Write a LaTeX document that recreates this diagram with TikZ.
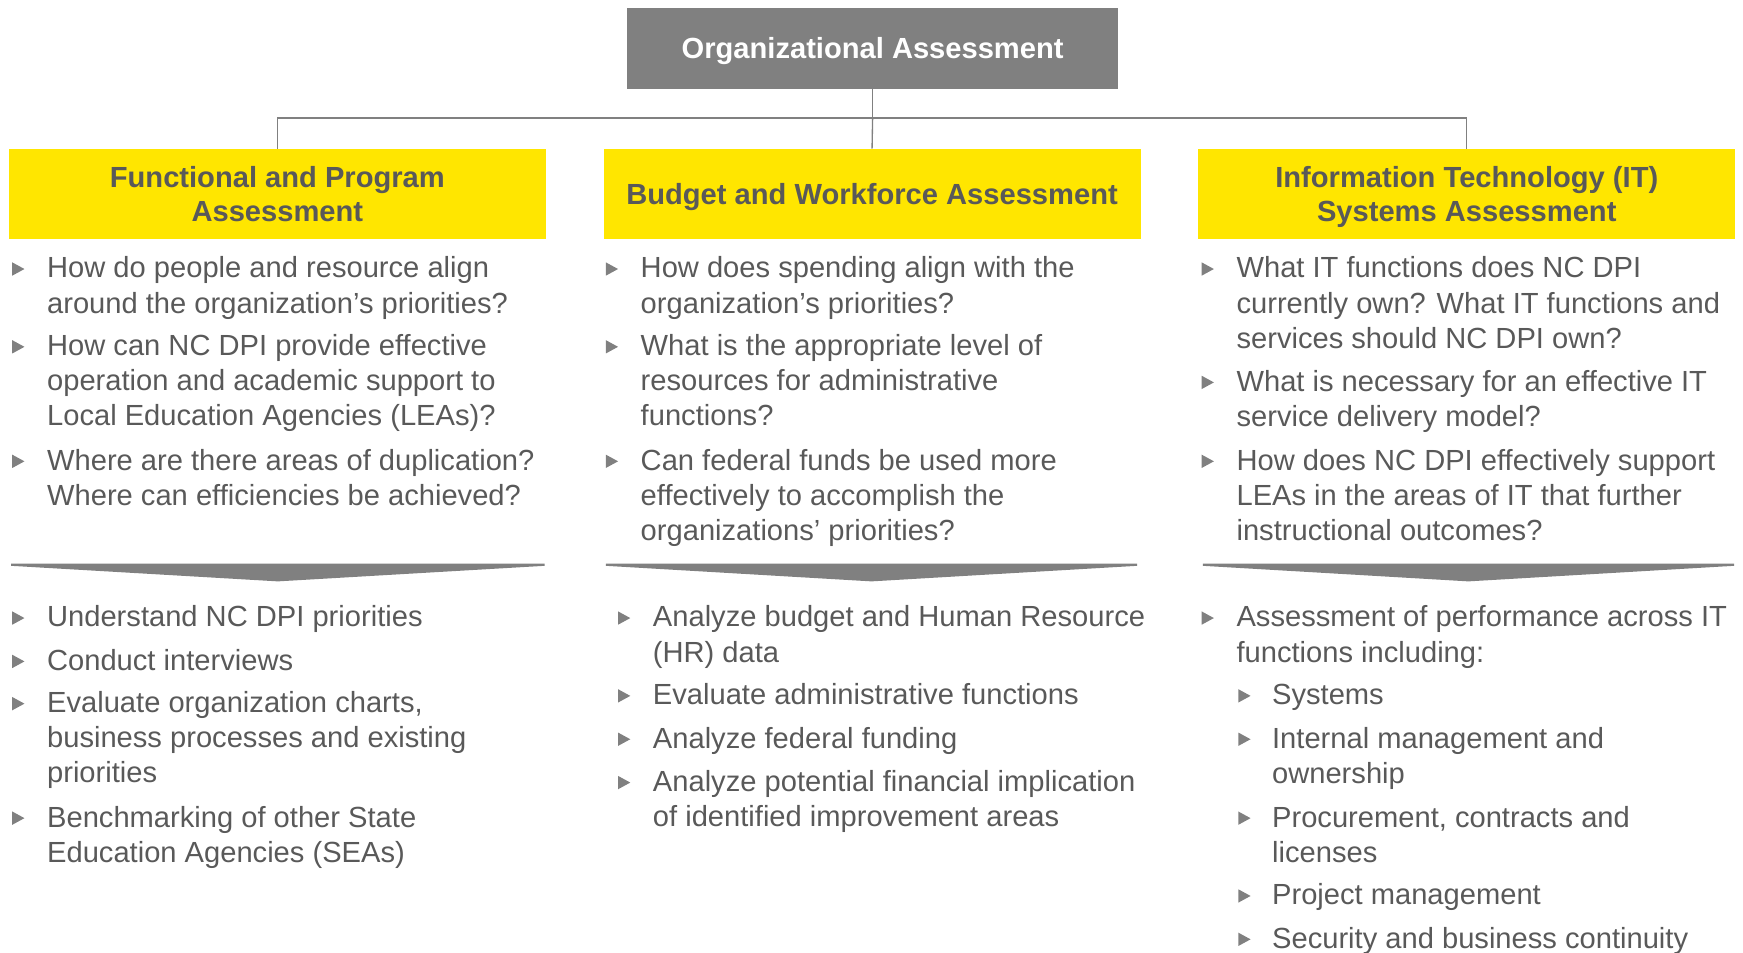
\documentclass[tikz,border=0pt]{standalone}
\usepackage{fontspec}
\setmainfont{Liberation Sans}
\definecolor{eyyellow}{HTML}{FFE600}
\definecolor{boxgray}{HTML}{808080}
\definecolor{textc}{HTML}{595959}
\definecolor{bulc}{HTML}{808080}
\newcommand\ml[1]{\begin{tabular}[t]{@{}l@{}}#1\end{tabular}}
\tikzset{
  x=0.5pt,y=-0.5pt,
  topbox/.style={fill=boxgray, text=white, font=\bfseries\fontsize{13.1}{15.6}\selectfont, minimum width=221pt, minimum height=36.5pt, inner sep=0pt, text depth=0pt},
  headbox/.style={fill=eyyellow, text=textc, font=\bfseries\fontsize{13.1}{15.6}\selectfont, minimum width=241.5pt, minimum height=40.5pt, align=center, inner sep=0pt},
  txt/.style={text=textc, font=\fontsize{13.1}{15.8}\selectfont, inner sep=0pt, anchor=base west},
  conn/.style={draw=boxgray, line width=0.6pt},
  chev/.style={fill=boxgray},
}
\newcommand\bul[2]{\fill[bulc,shift={(#1,#2)}] (-6,-14) -- (5,-8) -- (-6,-2) -- cycle;}
\begin{document}
\begin{tikzpicture}
\useasboundingbox (0,0) rectangle (1568,857.3);
% top
\node[topbox] (top) at (785,43.5) {Organizational Assessment};
\node[headbox] (h1) at (249.5,174.5) {Functional and Program\\Assessment};
\node[headbox, text depth=0pt] (h2) at (784.5,174.5) {Budget and Workforce Assessment};
\node[headbox] (h3) at (1319.5,174.5) {Information Technology \smash{(IT)}\\\smash{Systems} Assessment};
\coordinate (j) at (785,106);
\draw[conn] (top.south) -- (j);
\draw[conn] (h1.north) |- (j) -| (h3.north);
\draw[conn] (j) -- (h2.north);
% column 1 upper
\bul{17}{250}\node[txt] (a1) at (42,250) {\ml{How do people and resource align\\around the organization’s priorities?}};
\bul{17}{320}\node[txt] (a2) at (42,320) {\ml{How can NC DPI provide effective\\operation and academic support to\\Local Education Agencies (LEAs)?}};
\bul{17}{423}\node[txt] (a3) at (42,423) {\ml{Where are there areas of duplication?\\Where can efficiencies be achieved?}};
% column 2 upper
\bul{551}{250}\node[txt] (b1) at (576,250) {\ml{How does spending align with the\\organization’s priorities?}};
\bul{551}{320}\node[txt] (b2) at (576,320) {\ml{What is the appropriate level of\\resources for administrative\\functions?}};
\bul{551}{423}\node[txt] (b3) at (576,423) {\ml{Can federal funds be used more\\effectively to accomplish the\\organizations’ priorities?}};
% column 3 upper
\bul{1087}{250}\node[txt] (c1) at (1112,250) {\ml{What IT functions does NC DPI\\currently own? What IT functions and\\services should NC DPI own?}};
\bul{1087}{352}\node[txt] (c2) at (1112,352) {\ml{What is necessary for an effective IT\\service delivery model?}};
\bul{1087}{423}\node[txt] (c3) at (1112,423) {\ml{How does NC DPI effectively support\\LEAs in the areas of IT that further\\instructional outcomes?}};
% chevrons
\fill[chev] (10,507) -- (490,507) -- (490,509) -- (250,523) -- (10,509) -- cycle;
\fill[chev] (545,507) -- (1023,507) -- (1023,509) -- (784,523) -- (545,509) -- cycle;
\fill[chev] (1082,507) -- (1560,507) -- (1560,509) -- (1321,523) -- (1082,509) -- cycle;
% column 1 lower
\bul{17}{564}\node[txt] (d1) at (42,564) {Understand NC DPI priorities};
\bul{17}{603}\node[txt] (d2) at (42,603) {Conduct interviews};
\bul{17}{641}\node[txt] (d3) at (42,641) {\ml{Evaluate organization charts,\\business processes and existing\\priorities}};
\bul{17}{744}\node[txt] (d4) at (42,744) {\ml{Benchmarking of other State\\Education Agencies (SEAs)}};
% column 2 lower
\bul{562}{564}\node[txt] (e1) at (587,564) {\ml{Analyze budget and Human Resource\\(HR) data}};
\bul{562}{634}\node[txt] (e2) at (587,634) {Evaluate administrative functions};
\bul{562}{673}\node[txt] (e3) at (587,673) {Analyze federal funding};
\bul{562}{712}\node[txt] (e4) at (587,712) {\ml{Analyze potential financial implication\\of identified improvement areas}};
% column 3 lower
\bul{1087}{564}\node[txt] (f1) at (1112,564) {\ml{Assessment of performance across IT\\functions including:}};
\bul{1120}{634}\node[txt] (f2) at (1144,634) {Systems};
\bul{1120}{673}\node[txt] (f3) at (1144,673) {\ml{Internal management and\\ownership}};
\bul{1120}{744}\node[txt] (f4) at (1144,744) {\ml{Procurement, contracts and\\licenses}};
\bul{1120}{814}\node[txt] (f5) at (1144,814) {Project management};
\bul{1120}{853}\node[txt] (f6) at (1144,853) {Security and business continuity};
\end{tikzpicture}
\end{document}
